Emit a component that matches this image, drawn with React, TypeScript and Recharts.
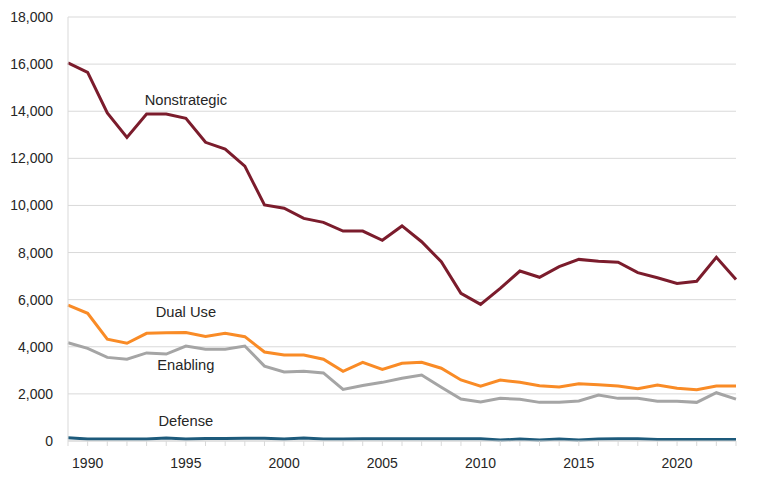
import { LineChart, Line, XAxis, YAxis, CartesianGrid, ReferenceDot } from 'recharts';

const years = [
    1989, 1990, 1991, 1992, 1993, 1994, 1995, 1996, 1997, 1998, 1999, 2000,
    2001, 2002, 2003, 2004, 2005, 2006, 2007, 2008, 2009, 2010, 2011, 2012,
    2013, 2014, 2015, 2016, 2017, 2018, 2019, 2020, 2021, 2022, 2023,
];

const nonstrategic = [
    16050, 15650, 13930, 12890, 13880, 13880, 13700, 12680, 12390, 11670, 10020, 9880,
    9450, 9280, 8910, 8910, 8520, 9130, 8460, 7610, 6270, 5800, 6480, 7215,
    6950, 7400, 7710, 7630, 7590, 7150, 6930, 6690, 6780, 7800, 6860,
];

const dualUse = [
    5770, 5420, 4320, 4150, 4570, 4600, 4610, 4440, 4570, 4430, 3780, 3650,
    3650, 3470, 2960, 3340, 3040, 3300, 3340, 3090, 2590, 2330, 2590, 2490,
    2350, 2290, 2430, 2390, 2330, 2220, 2380, 2240, 2180, 2330, 2330,
];

const enabling = [
    4170, 3930, 3550, 3470, 3740, 3690, 4030, 3900, 3900, 4030, 3180, 2930,
    2960, 2890, 2190, 2360, 2490, 2660, 2800, 2280, 1780, 1655, 1810, 1770,
    1640, 1640, 1700, 1950, 1810, 1810, 1690, 1690, 1640, 2050, 1780,
];

const defense = [
    140, 90, 80, 80, 90, 130, 80, 110, 110, 120, 120, 80,
    130, 90, 80, 100, 100, 100, 100, 100, 100, 100, 40, 80,
    40, 90, 40, 80, 100, 100, 60, 60, 60, 60, 60,
];

const yTicks = [0, 2000, 4000, 6000, 8000, 10000, 12000, 14000, 16000, 18000];

const data = years.map((year, i) => ({
    year,
    nonstrategic: nonstrategic[i],
    dualUse: dualUse[i],
    enabling: enabling[i],
    defense: defense[i],
}));

const FONT = '"Liberation Sans", Arial, sans-serif';
const TEXT = '#262626';

// only every fifth year gets a label, but every year keeps its tick mark
const YearTick = ({ x, y, payload }: any) => {
    if (payload.value % 5 !== 0) return null;
    return (
        <text x={x} y={y} dy="0.71em" textAnchor="middle" fill={TEXT} fontSize={14} fontFamily={FONT}>
            {payload.value}
        </text>
    );
};

const seriesLabel = (value: string) => ({
    value,
    position: 'center' as const,
    fill: TEXT,
    fontSize: 14.7,
    fontFamily: FONT,
});

export default function App() {
    return (
        <div style={{ position: 'absolute', left: 0, top: 0, width: 768, height: 480, background: '#fff' }}>
            <LineChart width={768} height={480} data={data} margin={{ top: 17, right: 32, left: 0, bottom: 0 }}>
                <CartesianGrid vertical={false} stroke="#d9d9d9" />
                <XAxis
                    dataKey="year"
                    interval={0}
                    height={39}
                    stroke="#d9d9d9"
                    tickSize={5}
                    tickMargin={12}
                    tick={<YearTick />}
                />
                <YAxis
                    width={68}
                    domain={[0, 18000]}
                    ticks={yTicks}
                    stroke="#d9d9d9"
                    tickLine={false}
                    tickSize={0}
                    tickMargin={15}
                    tick={{ fill: TEXT, fontSize: 14, fontFamily: FONT }}
                    tickFormatter={(v: number) => v.toLocaleString('en-US')}
                />
                <Line dataKey="nonstrategic" stroke="#7b1c2c" strokeWidth={3} dot={false} isAnimationActive={false} />
                <Line dataKey="dualUse" stroke="#f98b26" strokeWidth={3} dot={false} isAnimationActive={false} />
                <Line dataKey="enabling" stroke="#a5a5a5" strokeWidth={3} dot={false} isAnimationActive={false} />
                <Line dataKey="defense" stroke="#1d5a7b" strokeWidth={3} dot={false} isAnimationActive={false} />
                <ReferenceDot x={1995} y={14470} r={0} label={seriesLabel('Nonstrategic')} />
                <ReferenceDot x={1995} y={5475} r={0} label={seriesLabel('Dual Use')} />
                <ReferenceDot x={1995} y={3225} r={0} label={seriesLabel('Enabling')} />
                <ReferenceDot x={1995} y={850} r={0} label={seriesLabel('Defense')} />
            </LineChart>
        </div>
    );
}
